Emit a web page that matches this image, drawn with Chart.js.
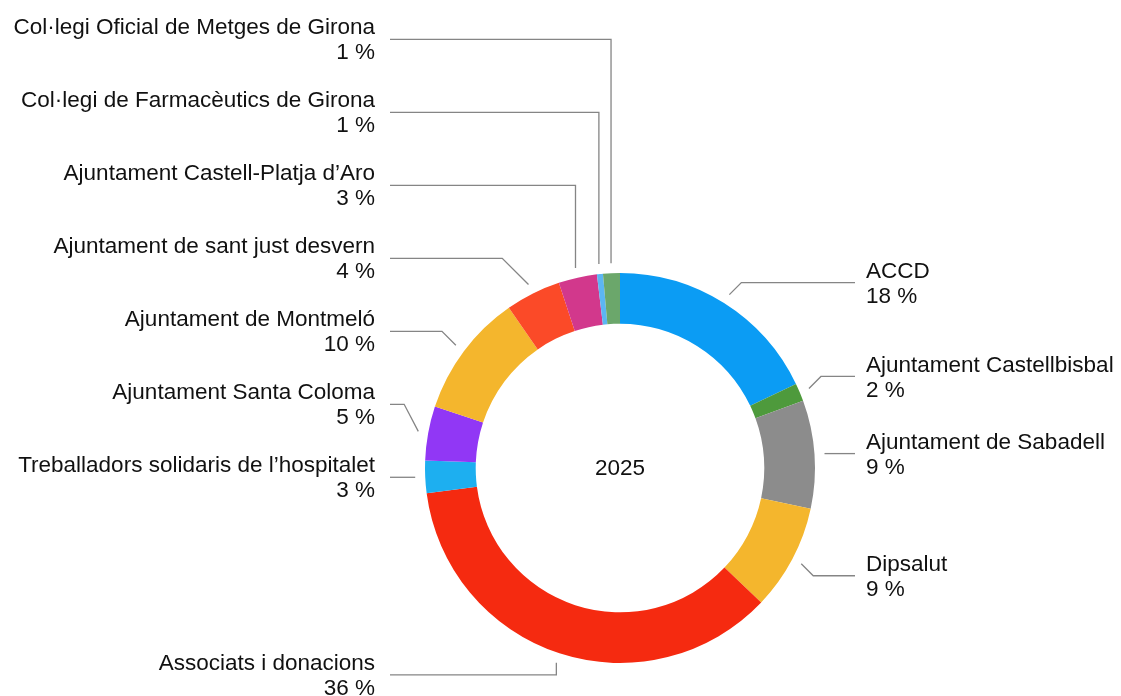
<!DOCTYPE html>
<html>
<head>
<meta charset="utf-8">
<script src="https://cdn.jsdelivr.net/npm/chart.js@4"></script>
<style>
  html, body { margin: 0; padding: 0; background: #ffffff; }
  #wrap { width: 1121px; height: 696px; position: relative; }
</style>
</head>
<body>
<div id="wrap"><canvas id="donut-canvas"></canvas></div>
<script>
// data, clockwise from 12 o'clock
const categories = [
  "ACCD",
  "Ajuntament Castellbisbal",
  "Ajuntament de Sabadell",
  "Dipsalut",
  "Associats i donacions",
  "Treballadors solidaris de l\u2019hospitalet",
  "Ajuntament Santa Coloma",
  "Ajuntament de Montmeló",
  "Ajuntament de sant just desvern",
  "Ajuntament Castell-Platja d\u2019Aro",
  "Col·legi de Farmacèutics de Girona",
  "Col·legi Oficial de Metges de Girona",
];
const shares = [18, 1.5, 9, 8.8, 36, 2.7, 4.5, 10.3, 4.6, 3.2, 0.5, 1.4];
const shownPercents = [18, 2, 9, 9, 36, 3, 5, 10, 4, 3, 1, 1];
const sliceColors = [
  "#0b9cf4", "#4e9a3c", "#8c8c8c", "#f4b62d", "#f52a10", "#1daff0",
  "#9137f5", "#f4b62d", "#fb4a28", "#d2388c", "#5cb6f2", "#6ba76b",
];
const centerLabel = "2025";

const FONT = "'Liberation Sans', Arial, Helvetica, sans-serif";

// leader lines + labels around the ring
const calloutPlugin = {
  id: "callouts",
  afterDraw(chart) {
    const ctx = chart.ctx;
    const arcs = chart.getDatasetMeta(0).data;
    const area = chart.chartArea;
    const left = [];
    const right = [];

    arcs.forEach((arc, i) => {
      const mid = (arc.startAngle + arc.endAngle) / 2;
      const r = arc.outerRadius + 10;
      const px = arc.x + Math.cos(mid) * r;
      const py = arc.y + Math.sin(mid) * r;
      const dy = py - arc.y;
      const item = {
        i, px, py,
        vertical: Math.abs(Math.cos(mid)) < 0.35,
        lineY: Math.abs(dy) > 40 ? py + Math.sign(dy) * 12 : py,
      };
      (px < arc.x ? left : right).push(item);
    });

    // spread left side labels upward from the bottom-most horizontal one
    const GAP = 73;
    const leftUpper = left.filter((d) => d.py < arcs[0].y + 40).sort((a, b) => b.py - a.py);
    for (let k = 1; k < leftUpper.length; k++) {
      leftUpper[k].lineY = Math.min(leftUpper[k].lineY, leftUpper[k - 1].lineY - GAP);
    }

    const leftTextX = area.left - 50;
    const leftLineX = area.left - 35;
    const rightTextX = area.right + 51;
    const rightLineX = area.right + 40;

    ctx.save();
    ctx.strokeStyle = "#858585";
    ctx.lineWidth = 1.3;
    ctx.font = "22.5px " + FONT;
    ctx.fillStyle = "#111111";
    ctx.textBaseline = "middle";

    const draw = (d, isLeft) => {
      const dir = isLeft ? -1 : 1;
      const lineX = isLeft ? leftLineX : rightLineX;
      let ex = d.px;
      if (!d.vertical) {
        const room = Math.abs(lineX - d.px) * 0.5;
        ex = d.px + dir * Math.min(Math.abs(d.lineY - d.py), room);
      }
      ctx.beginPath();
      ctx.moveTo(d.px, d.py);
      ctx.lineTo(ex, d.lineY);
      ctx.lineTo(lineX, d.lineY);
      ctx.stroke();

      ctx.textAlign = isLeft ? "right" : "left";
      const tx = isLeft ? leftTextX : rightTextX;
      ctx.fillText(categories[d.i], tx, d.lineY - 11);
      ctx.fillText(shownPercents[d.i] + " %", tx, d.lineY + 14);
    };
    left.forEach((d) => draw(d, true));
    right.forEach((d) => draw(d, false));

    // year in the hole
    ctx.textAlign = "center";
    ctx.fillText(centerLabel, arcs[0].x, arcs[0].y + 1);
    ctx.restore();
  },
};

const ctx = document.getElementById("donut-canvas").getContext("2d");
new Chart(ctx, {
  type: "doughnut",
  data: {
    labels: categories,
    datasets: [
      {
        data: shares,
        backgroundColor: sliceColors,
        borderWidth: 0,
      },
    ],
  },
  options: {
    responsive: true,
    maintainAspectRatio: false,
    animation: false,
    cutout: "74%",
    layout: {
      padding: { left: 425, right: 306, top: 273, bottom: 33 },
    },
    plugins: {
      legend: { display: false },
      tooltip: { enabled: false },
    },
  },
  plugins: [calloutPlugin],
});
</script>
</body>
</html>
